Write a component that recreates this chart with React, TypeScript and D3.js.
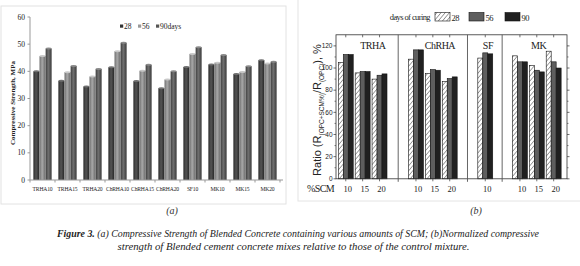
import React from "react";
import * as d3 from "d3";

// ---------- Data (a) ----------
const catsA = ["TRHA10", "TRHA15", "TRHA20", "ChRHA10", "ChRHA15", "ChRHA20", "SF10", "MK10", "MK15", "MK20"];
const a28 = [40, 36.5, 34.4, 41.5, 36.4, 33.8, 41.6, 42.5, 39, 44.1];
const a56 = [45.6, 39.7, 38.1, 47.4, 40.2, 37, 46.4, 43.2, 39.8, 42.9];
const a90 = [48.4, 42, 40.9, 50.5, 42.4, 40, 48.9, 46, 41.9, 43.5];
const ticksA = [0, 10, 20, 30, 40, 50, 60];
const seriesA = ["28", "56", "90days"];

// ---------- Data (b) ----------
const pctB = ["10", "15", "20", "10", "15", "20", "10", "10", "15", "20"];
const posB = [0.55, 1.5, 2.45, 4.5, 5.45, 6.4, 8.4, 10.35, 11.3, 12.25];
const b28 = [105, 95.6, 90, 108, 95, 88, 109, 111, 102.3, 115.2];
const b56 = [112.2, 96.8, 93.5, 116.4, 98.6, 90.5, 113.7, 105.6, 98, 105.6];
const b90 = [112.2, 96.8, 94.7, 116.4, 98, 92, 112.8, 105.6, 96.5, 100];
const panelNames = ["TRHA", "ChRHA", "SF", "MK"];
const panelLabelPos = [2.07, 5.85, 8.55, 11.4];
const dividers = [3.5, 7.4, 9.35];
const ticksB = [0, 20, 40, 60, 80, 100, 120];
const seriesB = ["28", "56", "90"];

const serif = "'Liberation Serif', 'Times New Roman', serif";
const sans = "'Liberation Sans', Arial, sans-serif";

function ChartA() {
  const x = d3.scaleBand<string>().domain(catsA).range([30, 280]).paddingInner(0.26).paddingOuter(0.13);
  const xs = d3.scaleBand<string>().domain(seriesA).range([0, x.bandwidth()]).padding(0.02);
  const y = d3.scaleLinear().domain([0, 60]).range([180, 17]);
  const vals = [a28, a56, a90];
  const grads = ["gA0", "gA1", "gA2"];
  const caps = ["#707070", "#c8c8c8", "#8a8a8a"];
  const step = x.step();
  return (
    <g>
      <defs>
        <linearGradient id="gA0" x1="0" x2="1" y1="0" y2="0">
          <stop offset="0" stopColor="#2a2a2a" />
          <stop offset="0.45" stopColor="#555555" />
          <stop offset="1" stopColor="#262626" />
        </linearGradient>
        <linearGradient id="gA1" x1="0" x2="1" y1="0" y2="0">
          <stop offset="0" stopColor="#6e6e6e" />
          <stop offset="0.45" stopColor="#a8a8a8" />
          <stop offset="1" stopColor="#6a6a6a" />
        </linearGradient>
        <linearGradient id="gA2" x1="0" x2="1" y1="0" y2="0">
          <stop offset="0" stopColor="#3e3e3e" />
          <stop offset="0.45" stopColor="#707070" />
          <stop offset="1" stopColor="#3a3a3a" />
        </linearGradient>
      </defs>
      <rect x={1} y={6} width={285} height={198} fill="none" stroke="#e2e2e2" strokeWidth={1} />
      {/* bars */}
      {catsA.map((c, i) =>
        vals.map((v, s) => {
          const bx = (x(c) as number) + (xs(seriesA[s]) as number);
          const bw = xs.bandwidth();
          const top = y(v[i]);
          return (
            <g key={c + s}>
              <rect x={bx} y={top} width={bw} height={y(0) - top} fill={`url(#${grads[s]})`} />
              <ellipse cx={bx + bw / 2} cy={top} rx={bw / 2} ry={1} fill={caps[s]} />
            </g>
          );
        })
      )}
      {/* axes */}
      <line x1={30} x2={283} y1={180} y2={180} stroke="#999" strokeWidth={1} />
      <line x1={30} x2={30} y1={17} y2={180} stroke="#999" strokeWidth={1} />
      {catsA.map((c, i) => (
        <line key={"tk" + i} x1={(x(c) as number) - (step - x.bandwidth()) / 2} x2={(x(c) as number) - (step - x.bandwidth()) / 2} y1={180} y2={182.5} stroke="#999" />
      ))}
      <line x1={280} x2={280} y1={180} y2={182.5} stroke="#999" />
      {ticksA.map((t) => (
        <g key={"ty" + t}>
          <line x1={27.5} x2={30} y1={y(t)} y2={y(t)} stroke="#999" />
          <text x={25} y={y(t) + 2.6} fontSize={7.5} fontFamily={serif} textAnchor="end" fill="#222">{t}</text>
        </g>
      ))}
      {catsA.map((c) => (
        <text key={"lb" + c} x={(x(c) as number) + x.bandwidth() / 2} y={191} fontSize={5.6} fontFamily={serif} textAnchor="middle" fill="#222" letterSpacing={-0.15}>{c}</text>
      ))}
      <text transform={`translate(14.5,103) rotate(-90)`} fontSize={7} fontWeight="bold" fontFamily={serif} textAnchor="middle" fill="#222">Compressive Strength, MPa</text>
      {/* legend */}
      {seriesA.map((s, k) => {
        const lx = [120, 138, 156][k];
        return (
          <g key={"lg" + s}>
            <rect x={lx} y={24.5} width={3.2} height={3.2} fill={["#333", "#999", "#555"][k]} />
            <text x={lx + 4} y={28.5} fontSize={7.5} fontFamily={serif} fill="#222">{s}</text>
          </g>
        );
      })}
      <text x={172} y={214} fontSize={10} fontStyle="italic" fontFamily={serif} textAnchor="middle" fill="#333">(a)</text>
    </g>
  );
}

function ChartB() {
  const x = d3.scaleLinear().domain([0, 13]).range([336, 567]);
  const y = d3.scaleLinear().domain([0, 130]).range([178.8, 34.8]);
  const bw = x(0.28) - x(0);
  const vals = [b28, b56, b90];
  const fills = ["url(#hatchB)", "#5e5e5e", "#202020"];
  return (
    <g>
      <defs>
        <pattern id="hatchB" patternUnits="userSpaceOnUse" width={3.2} height={3.2} patternTransform="rotate(40)">
          <rect width={3.2} height={3.2} fill="#fff" />
          <line x1={0} y1={0} x2={0} y2={3.2} stroke="#333" strokeWidth={0.9} />
        </pattern>
      </defs>
      <rect x={298} y={-1} width={290} height={202} fill="none" stroke="#e4e4e4" strokeWidth={1} />
      {/* bars */}
      {posB.map((p, i) =>
        vals.map((v, s) => {
          const bx = x(p) + (s - 1.5) * bw;
          return (
            <rect key={"b" + i + s} x={bx} y={y(v[i])} width={bw} height={y(0) - y(v[i])} fill={fills[s]} stroke="#111" strokeWidth={0.6} />
          );
        })
      )}
      {/* frame */}
      <rect x={x(0)} y={y(130)} width={x(13) - x(0)} height={y(0) - y(130)} fill="none" stroke="#333" strokeWidth={0.8} />
      {dividers.map((d, i) => (
        <line key={"dv" + i} x1={x(d)} x2={x(d)} y1={y(130)} y2={y(0) + 3} stroke="#555" strokeWidth={0.9} />
      ))}
      {/* ticks */}
      {ticksB.map((t) => (
        <g key={"tb" + t}>
          <line x1={x(0) - 2.5} x2={x(0)} y1={y(t)} y2={y(t)} stroke="#333" strokeWidth={0.7} />
          <line x1={x(13)} x2={x(13) + 2.5} y1={y(t)} y2={y(t)} stroke="#333" strokeWidth={0.7} />
          <text x={x(0) - 3.5} y={y(t) + 2.3} fontSize={6.5} fontFamily={sans} textAnchor="end" fill="#222">{t}</text>
        </g>
      ))}
      {d3.range(10, 130, 20).map((t) => (
        <g key={"mt" + t}>
          <line x1={x(0) - 1.5} x2={x(0)} y1={y(t)} y2={y(t)} stroke="#333" strokeWidth={0.6} />
          <line x1={x(13)} x2={x(13) + 1.5} y1={y(t)} y2={y(t)} stroke="#333" strokeWidth={0.6} />
        </g>
      ))}
      {posB.map((p, i) => (
        <g key={"xt" + i}>
          <line x1={x(p)} x2={x(p)} y1={y(0)} y2={y(0) + 2.5} stroke="#333" strokeWidth={0.7} />
          <line x1={x(p)} x2={x(p)} y1={y(130)} y2={y(130) + 2.5} stroke="#333" strokeWidth={0.7} />
          <text x={x(p) + 2} y={191.5} fontSize={8.5} fontFamily={serif} textAnchor="middle" fill="#222">{pctB[i]}</text>
        </g>
      ))}
      {panelNames.map((n, i) => (
        <text key={"pn" + n} x={x(panelLabelPos[i])} y={48.5} fontSize={10} fontFamily={serif} textAnchor="middle" fill="#222" letterSpacing={-0.5}>{n}</text>
      ))}
      <text x={334} y={192} fontSize={10} fontFamily={serif} textAnchor="end" fill="#222" letterSpacing={-0.6}>%SCM</text>
      {/* y title */}
      <text transform={`translate(321,110) rotate(-90)`} fontSize={11} fontFamily={sans} textAnchor="middle" fill="#222">
        Ratio (R<tspan fontSize={6.5} dy={2.5}>(OPC+SCM%)</tspan><tspan dy={-2.5}>/R</tspan><tspan fontSize={6.5} dy={2.5}>(OPC)</tspan><tspan dy={-2.5}>), %</tspan>
      </text>
      {/* legend */}
      <text x={430} y={20} fontSize={8.5} fontFamily={serif} textAnchor="end" fill="#222" letterSpacing={-0.6}>days of curing</text>
      {seriesB.map((s, k) => {
        const lx = [435, 469, 505][k];
        return (
          <g key={"lgb" + s}>
            <rect x={lx} y={12.5} width={15} height={8.5} fill={fills[k]} stroke="#111" strokeWidth={0.6} />
            <text x={lx + 16.5} y={20.5} fontSize={8.5} fontFamily={serif} fill="#222" letterSpacing={-0.4}>{s}</text>
          </g>
        );
      })}
      <text x={476} y={214} fontSize={10} fontStyle="italic" fontFamily={serif} textAnchor="middle" fill="#333">(b)</text>
    </g>
  );
}

export default function App() {
  return (
    <svg width={580} height={266} style={{ position: "absolute", left: 0, top: 0, background: "#fff" }}>
      <rect width={580} height={266} fill="#fff" />
      <ChartA />
      <ChartB />
      <text x={298} y={236.5} fontSize={10} fontFamily={serif} fontStyle="italic" textAnchor="middle" fill="#222" textLength={482} lengthAdjust="spacingAndGlyphs">
        <tspan fontWeight="bold">Figure 3.</tspan> (a) Compressive Strength of Blended Concrete containing various amounts of SCM; (b)Normalized compressive
      </text>
      <text x={293.5} y={249.5} fontSize={10} fontFamily={serif} fontStyle="italic" textAnchor="middle" fill="#222" textLength={352} lengthAdjust="spacingAndGlyphs">
        strength of Blended cement concrete mixes relative to those of the control mixture.
      </text>
    </svg>
  );
}
